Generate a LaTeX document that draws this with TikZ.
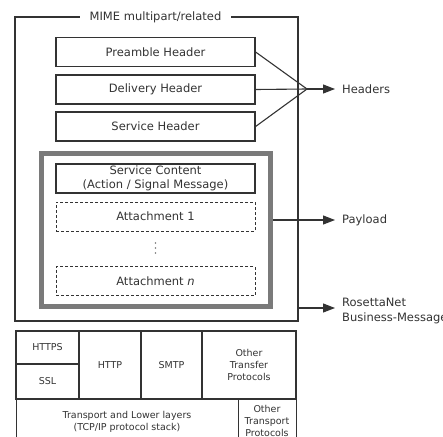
\documentclass[tikz,border=0pt]{standalone}
\usepackage{fontspec}
\setmainfont{DejaVu Sans}
\usetikzlibrary{arrows.meta}

\definecolor{ink}{HTML}{333333}
\definecolor{frame}{HTML}{7A7A7A}

\tikzset{
    hdrbox/.style={draw=ink, line width=1.2pt, minimum width=199pt, minimum height=29pt, inner sep=0pt},
    attbox/.style={hdrbox, dashed, dash pattern=on 3pt off 2pt, line width=1pt},
    cell/.style={draw=ink, line width=1.1pt, inner sep=0pt, align=center, font=\fontsize{9.5}{12}\selectfont},
    outlbl/.style={anchor=west, inner xsep=7pt, align=left, text=ink},
    tip/.style={-{Triangle[length=12pt,width=9pt]}, ink, line width=1.1pt}
}

\begin{document}
\begin{tikzpicture}[x=1pt, y=-1pt, font=\fontsize{11.5}{14}\selectfont, text=ink]
    \useasboundingbox[fill=white] (0,0) rectangle (443,436);

    % MIME multipart/related frame
    \draw[ink, line width=1.1pt] (15,17) rectangle (298,321);
    \node (mime) [fill=white, inner xsep=10pt, inner ysep=2pt] at (155.5,17) {MIME multipart/related};

    % Header parts
    \node (preamble) [hdrbox] at (155.5,52) {Preamble Header};
    \node (delivery) [hdrbox] at (155.5,89.5) {Delivery Header};
    \node (service) [hdrbox] at (155.5,126.5) {Service Header};

    % Payload container
    \draw[frame, line width=5pt] (41.5,153.5) rectangle (270.5,306.5);
    \node (content) [hdrbox, align=center, font=\fontsize{11.5}{14}\selectfont] at (155.5,178.5) {Service Content\\(Action / Signal Message)};
    \node (att1) [attbox] at (155.5,216.5) {Attachment 1};
    \foreach \y in {243,248,253}
        \fill[frame] (155.5,\y) circle (0.8pt);
    \node (attn) [attbox] at (155.5,281) {Attachment \textit{n}};

    % Headers arrow
    \coordinate (join) at (307,89);
    \draw[ink, line width=1.1pt] (preamble.east) -- (join);
    \draw[ink, line width=1.1pt] (delivery.east) -- (join);
    \draw[ink, line width=1.1pt] (service.east) -- (join);
    \node (headers) [outlbl] at (335,89) {Headers};
    \draw[tip] (join) -- (headers.west);

    % Payload arrow
    \coordinate (pay) at (273,220);
    \node (payload) [outlbl] at (335,220) {Payload};
    \draw[tip] (pay) -- (payload.west);

    % Business message arrow
    \coordinate (msg) at (298,308);
    \node (rosetta) [outlbl, anchor=west, font=\fontsize{11.5}{15}\selectfont] at (335,310.5) {RosettaNet\\Business-Message};
    \draw[tip] (msg) -- (rosetta.west |- msg);

    % Transport protocol stack
    \node (https) [cell, minimum width=63pt, minimum height=33pt] at (47.5,347.5) {HTTPS};
    \node (ssl) [cell, minimum width=63pt, minimum height=35pt] at (47.5,381.5) {SSL};
    \node (http) [cell, minimum width=62pt, minimum height=68pt] at (110,365) {HTTP};
    \node (smtp) [cell, minimum width=61pt, minimum height=68pt] at (171.5,365) {SMTP};
    \node (transfer) [cell, minimum width=94pt, minimum height=68pt] at (249,365) {Other\\Transfer\\Protocols};
    \node (lower) [cell, minimum width=222pt, minimum height=41pt, anchor=north west] at (16,399) {};
    \node (lowertxt) [cell, draw=none] at (127,421.5) {Transport and Lower layers\\(TCP/IP protocol stack)};
    \node (othertp) [cell, minimum width=58pt, minimum height=41pt, anchor=north west] at (238,399) {};
    \node (othertptxt) [cell, draw=none] at (267,420.5) {Other\\Transport\\Protocols};
\end{tikzpicture}
\end{document}
